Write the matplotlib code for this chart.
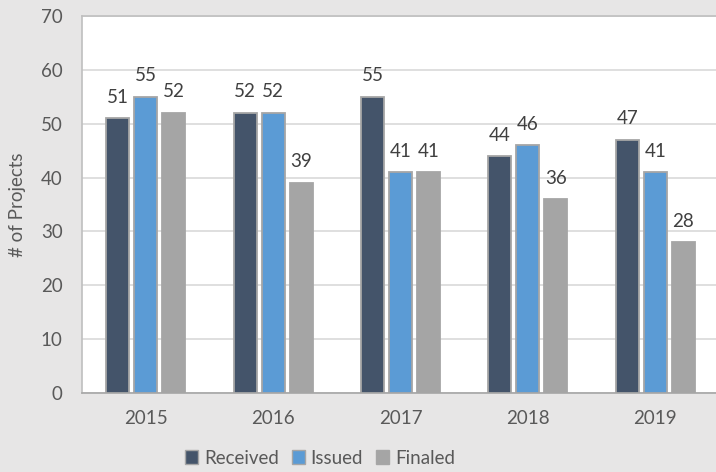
import matplotlib
matplotlib.use("Agg")
import matplotlib.pyplot as plt
import numpy as np
from matplotlib.patches import Patch

years = ["2015", "2016", "2017", "2018", "2019"]
received = [51, 52, 55, 44, 47]
issued = [55, 52, 41, 46, 41]
finaled = [52, 39, 41, 36, 28]
series_names = ["Received", "Issued", "Finaled"]
colors = ["#44546A", "#5B9BD5", "#A5A5A5"]

plt.rcParams['font.family'] = ['Lato', 'DejaVu Sans']
txt = "#595959"
fs = 13.5

fig = plt.figure(figsize=(7.16, 4.72), dpi=100, facecolor="#E7E6E6")
ax = fig.add_axes([82/716, 1-393/472, 637/716, 377/472])
ax.set_facecolor("white")

x = np.arange(len(years))
w = 0.18
off = 0.22
for i, (vals, c) in enumerate(zip([received, issued, finaled], colors)):
    bars = ax.bar(x + (i-1)*off, vals, w, color=c, edgecolor="#A6A6A6", linewidth=1.3, zorder=3)
    for b, v in zip(bars, vals):
        ax.annotate(str(v), (b.get_x()+b.get_width()/2, v), xytext=(0, 9),
                    textcoords="offset points", ha="center", va="bottom",
                    fontsize=fs, color="#404040")

ax.set_ylim(0, 70)
ax.set_xlim(-0.5, 4.5)
ax.set_yticks(range(0, 71, 10))
ax.set_xticks(x)
ax.set_xticklabels(years)
ax.grid(axis="y", color="#D9D9D9", linewidth=1.2, zorder=0)
ax.tick_params(axis="both", length=0, labelsize=fs, colors=txt)
ax.tick_params(axis="y", pad=14)
ax.tick_params(axis="x", pad=12)
for s in ax.spines.values():
    s.set_color("#BFBFBF")
    s.set_linewidth(1.2)
ax.spines["bottom"].set_color("#A6A6A6")
ax.set_ylabel("# of Projects", fontsize=fs, color=txt)
ax.yaxis.set_label_coords(-0.088, 0.5)

handles = [Patch(facecolor=c, edgecolor="#A6A6A6", linewidth=1.0) for c in colors]
fig.legend(handles, series_names, loc="center", bbox_to_anchor=(320/716, 1-458/472),
           ncol=3, frameon=False, fontsize=fs, labelcolor=txt,
           handlelength=0.7, handleheight=0.7, handletextpad=0.3, columnspacing=0.7)

fig.savefig("out.png", dpi=100, facecolor=fig.get_facecolor())
